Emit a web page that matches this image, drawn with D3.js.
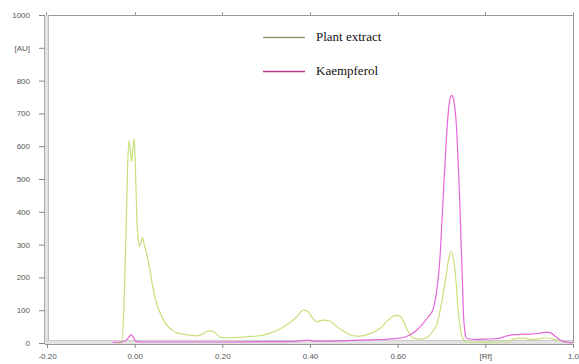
<!DOCTYPE html>
<html><head><meta charset="utf-8">
<script src="https://cdn.jsdelivr.net/npm/d3@7"></script>
<style>
body{margin:0;background:#fff;}
svg{display:block;}
.tick text{font-family:Arial,"Liberation Sans",sans-serif;font-size:8px;fill:#555;}
</style></head>
<body><svg id="c" width="579" height="364"></svg>
<script>
// ---- data ----
const yTickValues = [0,100,200,300,400,500,600,700,800,900,1000];
const yTickLabels = ["0","100","200","300","400","500","600","700","800","[AU]","1000"];
const xTickValues = [-0.2,0,0.2,0.4,0.6,0.8,1.0];
const xTickLabels = ["-0.20","0.00","0.20","0.40","0.60","[Rf]","1.0"];
const seriesNames = ["Plant extract","Kaempferol"];

const plantRf = [-0.04,-0.03,-0.025,-0.02,-0.016,-0.013,-0.009,-0.007,-0.004,-0.001,0.002,0.005,0.008,0.011,0.015,0.018,0.021,0.024,0.03,0.035,0.04,0.046,0.052,0.058,0.065,0.073,0.085,0.096,0.11,0.125,0.14,0.155,0.165,0.175,0.185,0.195,0.21,0.23,0.25,0.27,0.29,0.31,0.33,0.35,0.37,0.385,0.395,0.405,0.415,0.43,0.445,0.46,0.475,0.49,0.505,0.52,0.54,0.56,0.575,0.59,0.6,0.61,0.62,0.63,0.64,0.655,0.67,0.68,0.69,0.7,0.71,0.716,0.723,0.728,0.733,0.738,0.743,0.748,0.755,0.8,0.85,0.86,0.875,0.89,0.9,0.92,0.94,0.955,0.97,0.985,1.0];
const plantAU = [0,2,90,320,540,617,575,553,590,623,520,380,318,294,310,322,305,290,255,223,180,141,112,92,72,55,40,31,27,24,22,27,35,37,30,18,16,17,18,20,23,30,42,58,80,100,96,78,65,70,67,52,37,26,21,22,30,45,65,82,84,75,45,22,13,12,20,35,60,120,200,253,279,250,190,100,45,15,3,2,3,10,14,15,11,12,16,12,8,3,0];

const kaempRf = [-0.05,-0.03,-0.02,-0.012,-0.008,-0.003,0.003,0.02,0.1,0.2,0.3,0.37,0.395,0.41,0.45,0.5,0.55,0.6,0.62,0.64,0.655,0.67,0.68,0.688,0.692,0.697,0.7,0.704,0.708,0.712,0.716,0.72,0.723,0.727,0.731,0.735,0.738,0.742,0.745,0.748,0.75,0.753,0.755,0.76,0.78,0.8,0.82,0.834,0.845,0.86,0.88,0.9,0.92,0.94,0.95,0.96,0.97,0.98,1.0];
const kaempAU = [2,3,8,20,25,18,5,3,3,3,4,5,9,6,6,8,10,14,20,35,55,80,100,150,192,270,345,450,549,640,711,748,755,745,711,640,549,420,294,180,91,40,19,13,11,12,13,15,20,25,26,27,29,33,30,20,10,4,0];

// ---- layout ----
const L = 47, R = 573, T = 15, B = 343;
const svg = d3.select("#c");
const x = d3.scaleLinear().domain([-0.2,1.0]).range([L,R]);
const y = d3.scaleLinear().domain([0,1000]).range([B,T]);

// frame
svg.append("line").attr("x1",L).attr("x2",R).attr("y1",T+0.5).attr("y2",T+0.5).attr("stroke","#999");
svg.append("line").attr("x1",R+0.5).attr("x2",R+0.5).attr("y1",T-3).attr("y2",B).attr("stroke","#999");
svg.append("line").attr("x1",L-0.5).attr("x2",L-0.5).attr("y1",T-3).attr("y2",T).attr("stroke","#999");
// top ticks
svg.append("g").selectAll("line").data(xTickValues.slice(1,-1)).join("line")
  .attr("x1",d=>Math.round(x(d))+0.5).attr("x2",d=>Math.round(x(d))+0.5)
  .attr("y1",T-3).attr("y2",T).attr("stroke","#999");

// thick left & bottom axis bands
svg.append("rect").attr("x",L-2).attr("y",T).attr("width",3).attr("height",B-T+1).attr("fill","#e2e2e2");
svg.append("line").attr("x1",L-2.5).attr("x2",L-2.5).attr("y1",T).attr("y2",B+1).attr("stroke","#aaa");
svg.append("line").attr("x1",L+1.5).attr("x2",L+1.5).attr("y1",T).attr("y2",B).attr("stroke","#bbb");
svg.append("rect").attr("x",L-2).attr("y",B-2).attr("width",R-L+2).attr("height",3).attr("fill","#e2e2e2");
svg.append("line").attr("x1",L-2).attr("x2",R+1).attr("y1",B+1.5).attr("y2",B+1.5).attr("stroke","#999");
svg.append("line").attr("x1",L).attr("x2",R).attr("y1",B-2.5).attr("y2",B-2.5).attr("stroke","#ccc");

// axes
const yAxis = d3.axisLeft(y).tickValues(yTickValues).tickFormat((d,i)=>yTickLabels[i]).tickSize(6).tickPadding(9);
const gy = svg.append("g").attr("transform",`translate(${L-2},0)`).call(yAxis);
gy.select(".domain").remove();
gy.selectAll(".tick line").attr("stroke","#888");

const xAxis = d3.axisBottom(x).tickValues(xTickValues).tickFormat((d,i)=>xTickLabels[i]).tickSize(4).tickPadding(5);
const gx = svg.append("g").attr("transform",`translate(0,${B+1})`).call(xAxis);
gx.select(".domain").remove();
gx.selectAll(".tick line").attr("stroke","#888");

// curves
const line = d3.line().x(d=>x(d[0])).y(d=>y(d[1])).curve(d3.curveMonotoneX);
const plant = plantRf.map((r,i)=>[r,plantAU[i]]);
const kaemp = kaempRf.map((r,i)=>[r,kaempAU[i]]);
svg.append("path").datum(plant).attr("d",line).attr("fill","none").attr("stroke","#c8e07c").attr("stroke-width",1.2);
svg.append("path").datum(kaemp).attr("d",line).attr("fill","none").attr("stroke","#e466d8").attr("stroke-width",1.2);

// legend
const legColors = ["#909a70","#b8378a"];
const legY = [37, 71];
const lg = svg.append("g");
seriesNames.forEach((n,i)=>{
  lg.append("line").attr("x1",263).attr("x2",305).attr("y1",legY[i]+0.5).attr("y2",legY[i]+0.5)
    .attr("stroke",legColors[i]).attr("stroke-width",1.6);
  lg.append("text").attr("x",316).attr("y",legY[i]+4).text(n)
    .attr("font-family","'Liberation Serif','Times New Roman',serif").attr("font-size",13).attr("fill","#111");
});
</script></body></html>
